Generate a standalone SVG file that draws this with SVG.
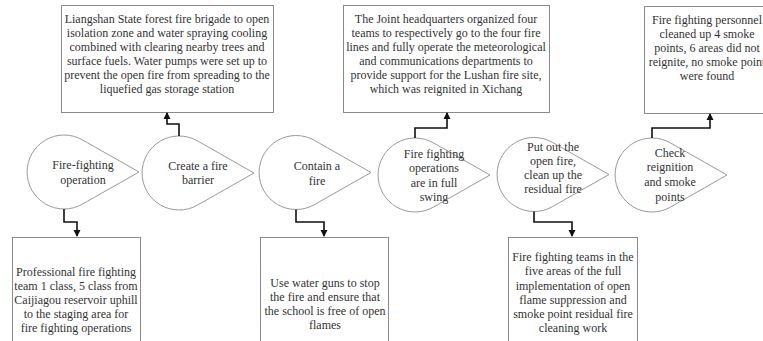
<svg xmlns="http://www.w3.org/2000/svg" width="763" height="341" viewBox="0 0 763 341">
<defs>
<style>
.box{fill:#fff;stroke:#8a8a8a;stroke-width:1}
.drop{fill:#fff;stroke:#9a9a9a;stroke-width:1}
.t{font-family:"Liberation Serif","Times New Roman",serif;font-size:12px;fill:#333;text-anchor:middle}
.c{fill:none;stroke:#111;stroke-width:1.6}
</style>
<marker id="ah" markerWidth="8" markerHeight="8" refX="6" refY="4" orient="auto" markerUnits="userSpaceOnUse"><path d="M0,0.5 L7,4 L0,7.5 Z" fill="#111"/></marker>
<path id="tear" d="M75,0 L18.3,-32.2 A37,37 0 1 0 18.3,32.2 Z"/>
</defs>
<rect width="763" height="341" fill="#fff"/>

<g id="top1"><rect class="box" x="61.5" y="5.5" width="212" height="107"/>
<text class="t"><tspan x="167" y="23">Liangshan State forest fire brigade to open</tspan><tspan x="167" y="37">isolation zone and water spraying cooling</tspan><tspan x="167" y="51">combined with clearing nearby trees and</tspan><tspan x="167" y="65">surface fuels. Water pumps were set up to</tspan><tspan x="167" y="79">prevent the open fire from spreading to the</tspan><tspan x="167" y="93">liquefied gas storage station</tspan></text></g>

<g id="top2"><rect class="box" x="343.5" y="5.5" width="206" height="107"/>
<text class="t"><tspan x="446" y="23">The Joint headquarters organized four</tspan><tspan x="446" y="37">teams to respectively go to the four fire</tspan><tspan x="446" y="51">lines and fully operate the meteorological</tspan><tspan x="446" y="65">and communications departments to</tspan><tspan x="446" y="79">provide support for the Lushan fire site,</tspan><tspan x="446" y="93">which was reignited in Xichang</tspan></text></g>

<g id="top3"><rect class="box" x="644.5" y="6.5" width="130" height="107"/>
<text class="t"><tspan x="707" y="24">Fire fighting personnel</tspan><tspan x="707" y="38">cleaned up 4 smoke</tspan><tspan x="707" y="52">points, 6 areas did not</tspan><tspan x="707" y="66">reignite, no smoke point</tspan><tspan x="707" y="80">were found</tspan></text></g>

<g id="s1"><use href="#tear" class="drop" x="64" y="172"/>
<text class="t"><tspan x="83" y="169">Fire-fighting</tspan><tspan x="83" y="184">operation</tspan></text></g>
<g id="s2"><use href="#tear" class="drop" x="179" y="173"/>
<text class="t"><tspan x="198" y="170">Create a fire</tspan><tspan x="198" y="184">barrier</tspan></text></g>
<g id="s3"><use href="#tear" class="drop" x="296" y="172.5"/>
<text class="t"><tspan x="317" y="170">Contain a</tspan><tspan x="317" y="185">fire</tspan></text></g>
<g id="s4"><use href="#tear" class="drop" x="415" y="175"/>
<text class="t"><tspan x="434" y="158">Fire fighting</tspan><tspan x="434" y="172">operations</tspan><tspan x="434" y="187">are in full</tspan><tspan x="434" y="201">swing</tspan></text></g>
<g id="s5"><use href="#tear" class="drop" x="534" y="174.5"/>
<text class="t"><tspan x="553" y="151">Put out the</tspan><tspan x="553" y="165">open fire,</tspan><tspan x="553" y="179">clean up the</tspan><tspan x="553" y="193">residual fire</tspan></text></g>
<g id="s6"><use href="#tear" class="drop" x="652" y="175"/>
<text class="t"><tspan x="670" y="157">Check</tspan><tspan x="670" y="171">reignition</tspan><tspan x="670" y="186">and smoke</tspan><tspan x="670" y="201">points</tspan></text></g>

<g id="bot1"><rect class="box" x="12.5" y="237.5" width="128" height="110"/>
<text class="t"><tspan x="76" y="276">Professional fire fighting</tspan><tspan x="76" y="290">team 1 class, 5 class from</tspan><tspan x="76" y="304">Caijiagou reservoir uphill</tspan><tspan x="76" y="318">to the staging area for</tspan><tspan x="76" y="332">fire fighting operations</tspan></text></g>

<g id="bot2"><rect class="box" x="260.5" y="237.5" width="128" height="110"/>
<text class="t"><tspan x="325" y="287">Use water guns to stop</tspan><tspan x="325" y="301">the fire and ensure that</tspan><tspan x="325" y="315">the school is free of open</tspan><tspan x="325" y="329">flames</tspan></text></g>

<g id="bot3"><rect class="box" x="508.5" y="237.5" width="129" height="110"/>
<text class="t"><tspan x="573" y="261">Fire fighting teams in the</tspan><tspan x="573" y="275">five areas of the full</tspan><tspan x="573" y="290">implementation of open</tspan><tspan x="573" y="304">flame suppression and</tspan><tspan x="573" y="318">smoke point residual fire</tspan><tspan x="573" y="332">cleaning work</tspan></text></g>

<g id="connectors">
<path class="c" d="M64,209 V222 H77 V236" marker-end="url(#ah)"/>
<path class="c" d="M179,136 V124 H167 V113" marker-end="url(#ah)"/>
<path class="c" d="M296,209.5 V222 H324 V236" marker-end="url(#ah)"/>
<path class="c" d="M415,138 V128 H447 V113" marker-end="url(#ah)"/>
<path class="c" d="M534,211.5 V222 H572 V236" marker-end="url(#ah)"/>
<path class="c" d="M652,138 V128 H710 V114" marker-end="url(#ah)"/>
</g>
</svg>
